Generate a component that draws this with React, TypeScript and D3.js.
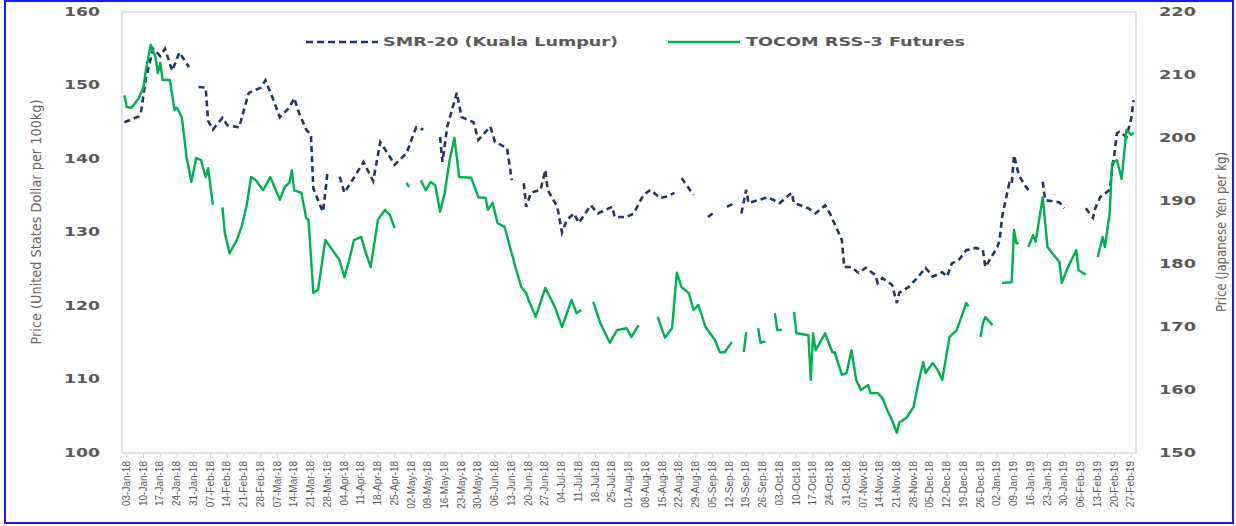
import React from "react";
import * as d3 from "d3";

// ---------- DATA ----------
const smrDates: string[] = [
  "2018-01-02","2018-01-08","2018-01-09","2018-01-11","2018-01-14","2018-01-17","2018-01-19","2018-01-22","2018-01-25","2018-01-29",
  "2018-01-31","2018-02-02","2018-02-05","2018-02-06","2018-02-08","2018-02-12","2018-02-14","2018-02-19","2018-02-20","2018-02-23",
  "2018-02-28","2018-03-02","2018-03-05","2018-03-08","2018-03-12","2018-03-14","2018-03-16","2018-03-19","2018-03-21","2018-03-22",
  "2018-03-26","2018-03-27","2018-03-28","2018-03-30","2018-04-02","2018-04-04","2018-04-09","2018-04-12","2018-04-16","2018-04-19",
  "2018-04-23","2018-04-25","2018-04-30","2018-05-02","2018-05-04","2018-05-07","2018-05-10","2018-05-14","2018-05-15","2018-05-17",
  "2018-05-21","2018-05-23","2018-05-28","2018-05-30","2018-06-04","2018-06-06","2018-06-11","2018-06-13","2018-06-15","2018-06-18",
  "2018-06-19","2018-06-21","2018-06-25","2018-06-27","2018-06-28","2018-07-02","2018-07-04","2018-07-06","2018-07-09","2018-07-11",
  "2018-07-16","2018-07-19","2018-07-25","2018-07-26","2018-07-31","2018-08-03","2018-08-07","2018-08-10","2018-08-14","2018-08-17",
  "2018-08-20","2018-08-21","2018-08-23","2018-08-28","2018-08-31","2018-09-03","2018-09-05","2018-09-07","2018-09-11","2018-09-14",
  "2018-09-15","2018-09-17","2018-09-19","2018-09-20","2018-09-24","2018-09-28","2018-10-03","2018-10-08","2018-10-09","2018-10-15",
  "2018-10-18","2018-10-22","2018-10-24","2018-10-29","2018-10-30","2018-11-02","2018-11-05","2018-11-08","2018-11-12","2018-11-13",
  "2018-11-15","2018-11-19","2018-11-21","2018-11-22","2018-11-26","2018-11-30","2018-12-03","2018-12-06","2018-12-10","2018-12-12",
  "2018-12-14","2018-12-17","2018-12-20","2018-12-24","2018-12-27","2018-12-28","2019-01-02","2019-01-03","2019-01-04","2019-01-07",
  "2019-01-08","2019-01-09","2019-01-11","2019-01-14","2019-01-16","2019-01-18","2019-01-21","2019-01-22","2019-01-28","2019-01-30",
  "2019-02-04","2019-02-08","2019-02-11","2019-02-12","2019-02-14","2019-02-18","2019-02-19","2019-02-20","2019-02-21","2019-02-22",
  "2019-02-25","2019-02-27","2019-02-28"
];
const smrValues: (number | null)[] = [
  145.0,145.8,146.5,151.0,155.0,154.0,155.0,152.0,154.5,152.5,
  null,149.8,149.7,145.2,144.0,145.6,144.6,144.3,145.5,149.0,
  149.7,150.7,148.3,145.7,147.0,148.3,146.3,144.0,143.3,136.0,
  132.8,135.4,138.5,null,137.6,135.4,138.0,139.6,137.0,142.3,
  140.3,139.2,140.8,142.6,144.3,144.0,null,143.0,139.6,144.4,
  149.0,145.7,145.0,142.6,144.4,142.3,141.5,137.1,null,136.7,
  133.5,135.4,135.8,138.5,135.8,133.5,130.0,131.7,132.6,131.3,
  133.7,132.6,133.5,132.1,132.1,132.6,135.1,135.8,134.7,134.9,
  135.4,null,137.4,135.1,null,132.1,132.6,null,133.5,134.0,
  null,132.6,135.8,134.0,134.4,134.8,134.0,135.4,134.0,133.3,
  132.6,133.7,132.6,129.0,125.3,125.3,124.5,125.2,124.2,123.1,
  123.8,122.9,120.4,121.8,122.6,124.0,125.2,124.0,124.6,124.0,
  125.8,126.3,127.6,127.9,127.6,125.3,128.0,129.0,132.1,136.7,
  136.5,140.5,137.8,136.2,135.4,null,136.9,134.4,134.1,133.3,
  null,133.3,132.0,133.3,134.8,135.8,138.5,140.8,143.5,143.7,
  143.0,145.5,148.0
];

const tocomDates: string[] = [
  "2018-01-02","2018-01-03","2018-01-05","2018-01-08","2018-01-10","2018-01-11","2018-01-13","2018-01-15","2018-01-16","2018-01-17",
  "2018-01-18","2018-01-21","2018-01-23","2018-01-24","2018-01-26","2018-01-28","2018-01-30","2018-02-01","2018-02-03","2018-02-05",
  "2018-02-06","2018-02-08","2018-02-10","2018-02-12","2018-02-13","2018-02-15","2018-02-18","2018-02-20","2018-02-22","2018-02-24",
  "2018-02-26","2018-03-01","2018-03-04","2018-03-08","2018-03-10","2018-03-12","2018-03-13","2018-03-14","2018-03-17","2018-03-19",
  "2018-03-20","2018-03-22","2018-03-24","2018-03-27","2018-03-30","2018-04-02","2018-04-04","2018-04-06","2018-04-08","2018-04-11",
  "2018-04-13","2018-04-15","2018-04-18","2018-04-21","2018-04-23","2018-04-25","2018-04-27","2018-04-30","2018-05-01","2018-05-03",
  "2018-05-06","2018-05-08","2018-05-10","2018-05-12","2018-05-14","2018-05-16","2018-05-18","2018-05-20","2018-05-22","2018-05-27",
  "2018-05-30","2018-06-02","2018-06-03","2018-06-05","2018-06-07","2018-06-10","2018-06-14","2018-06-17","2018-06-19","2018-06-20",
  "2018-06-23","2018-06-27","2018-07-01","2018-07-04","2018-07-08","2018-07-10","2018-07-12","2018-07-14","2018-07-17","2018-07-20",
  "2018-07-24","2018-07-27","2018-07-31","2018-08-02","2018-08-05","2018-08-07","2018-08-13","2018-08-16","2018-08-19","2018-08-21",
  "2018-08-23","2018-08-26","2018-08-28","2018-08-30","2018-09-02","2018-09-06","2018-09-08","2018-09-10","2018-09-13","2018-09-14",
  "2018-09-18","2018-09-19","2018-09-21","2018-09-24","2018-09-25","2018-09-27","2018-09-29","2018-10-01","2018-10-02","2018-10-04",
  "2018-10-06","2018-10-09","2018-10-10","2018-10-15","2018-10-16","2018-10-17","2018-10-18","2018-10-22","2018-10-25","2018-10-26",
  "2018-10-29","2018-10-31","2018-11-02","2018-11-04","2018-11-06","2018-11-09","2018-11-10","2018-11-13","2018-11-15","2018-11-17",
  "2018-11-19","2018-11-21","2018-11-22","2018-11-25","2018-11-28","2018-11-30","2018-12-02","2018-12-03","2018-12-06","2018-12-08",
  "2018-12-10","2018-12-13","2018-12-16","2018-12-18","2018-12-20","2018-12-21","2018-12-23","2018-12-26","2018-12-27","2018-12-28",
  "2018-12-31","2019-01-02","2019-01-04","2019-01-08","2019-01-09","2019-01-10","2019-01-11","2019-01-12","2019-01-15","2019-01-17",
  "2019-01-18","2019-01-21","2019-01-23","2019-01-25","2019-01-28","2019-01-29","2019-01-31","2019-02-04","2019-02-05","2019-02-08",
  "2019-02-10","2019-02-13","2019-02-15","2019-02-16","2019-02-18","2019-02-19","2019-02-21","2019-02-23","2019-02-25","2019-02-27",
  "2019-02-28"
];
const tocomValues: (number | null)[] = [
  206.8,204.9,204.8,206.3,208.1,210.8,214.8,212.9,210.3,211.9,
  209.2,209.2,204.4,204.8,203.3,197.0,193.0,196.8,196.5,193.8,
  195.2,189.4,null,189.0,184.9,181.7,183.8,185.9,189.0,193.8,
  193.3,191.7,193.8,190.2,192.2,192.9,194.9,191.7,191.3,187.3,
  187.0,175.4,175.9,183.8,182.2,180.6,177.9,180.6,183.8,184.3,
  181.7,179.5,187.0,188.6,187.8,185.7,null,192.9,192.2,null,
  193.3,191.7,193.0,192.5,188.3,191.4,196.5,200.0,193.8,193.7,
  190.6,190.5,188.6,189.7,186.5,185.9,180.2,176.3,175.4,174.3,
  171.6,176.2,173.2,170.0,174.3,172.2,172.7,null,174.0,170.6,
  167.5,169.5,169.8,168.4,170.3,null,171.6,168.3,169.8,178.6,
  176.3,175.4,172.7,173.5,170.0,167.9,166.0,166.0,167.6,null,
  166.0,169.2,null,169.8,167.5,167.7,null,172.2,169.5,169.5,
  null,172.4,169.0,168.7,161.6,169.0,166.3,169.0,166.0,166.0,
  162.4,162.7,166.3,161.6,160.0,160.8,159.5,159.5,158.7,156.8,
  155.2,153.2,154.8,155.6,157.3,161.1,164.4,162.7,164.3,163.2,
  161.6,168.4,169.5,171.6,173.8,173.3,null,168.4,170.6,171.6,
  170.3,null,177.0,177.1,185.4,183.3,183.3,null,182.7,184.6,
  183.5,190.6,182.7,181.7,180.3,177.0,179.0,182.2,179.0,178.3,
  null,181.1,184.3,182.7,188.1,196.0,196.5,193.5,201.3,200.5,
  200.8
];

const leftTicks = [100, 110, 120, 130, 140, 150, 160];
const rightTicks = [150, 160, 170, 180, 190, 200, 210, 220];
const seriesNames = ["SMR-20 (Kuala Lumpur)", "TOCOM RSS-3 Futures"];
const leftTitle = "Price (United States Dollar per 100kg)";
const rightTitle = "Price (Japanese Yen per kg)";
const firstTickDate = "2018-01-03";
const lastTickDate = "2019-02-28";
const domainStart = "2018-01-01";
const domainEnd = "2019-03-01";

// ---------- LAYOUT ----------
const W = 1236, H = 526;
const X0 = 122, X1 = 1136, Y0 = 12, Y1 = 453;
const NAVY = "#1f3864";
const GREEN = "#00b050";
const GRAY = "#595959";
const TITLE = "#6f655a";

const parse = d3.timeParse("%Y-%m-%d");
const fmt = d3.timeFormat("%d-%b-%y");

export default function App() {
  const x = d3.scaleTime().domain([parse(domainStart)!, parse(domainEnd)!]).range([X0, X1]);
  const yL = d3.scaleLinear().domain([100, 160]).range([Y1, Y0]);
  const yR = d3.scaleLinear().domain([150, 220]).range([Y1, Y0]);

  const smr = smrDates.map((d, i) => ({ d: parse(d)!, v: smrValues[i] }));
  const toc = tocomDates.map((d, i) => ({ d: parse(d)!, v: tocomValues[i] }));

  const lineL = d3.line<{ d: Date; v: number | null }>()
    .defined(p => p.v != null).x(p => x(p.d)).y(p => yL(p.v as number));
  const lineR = d3.line<{ d: Date; v: number | null }>()
    .defined(p => p.v != null).x(p => x(p.d)).y(p => yR(p.v as number));

  const weekTicks = d3.timeWednesday.range(parse(firstTickDate)!, parse(lastTickDate)!);

  const tickFont = "'DejaVu Sans', Verdana, sans-serif";

  return (
    <svg width={W} height={H} style={{ position: "absolute", left: 0, top: 0, background: "#fff" }}
      xmlns="http://www.w3.org/2000/svg">
      <rect x={0} y={0} width={W} height={H} fill="#fff" />
      <rect x={5} y={1} width={1228} height={522} fill="none" stroke="#1a1aff" strokeWidth={2} />
      {/* plot frame */}
      <rect x={X0} y={Y0} width={X1 - X0} height={Y1 - Y0} fill="none" stroke="#d9d9d9" strokeWidth={1.5} />
      {/* x ticks */}
      {weekTicks.map((t, i) => (
        <g key={i}>
          <line x1={x(t)} x2={x(t)} y1={Y1} y2={Y1 + 5} stroke="#d9d9d9" strokeWidth={1} />
          <text transform={`translate(${x(t) + 0.5},${Y1 + 8}) rotate(-90)`} textAnchor="end"
            dominantBaseline="middle" fontSize={10} fill={GRAY}
            fontFamily="'Liberation Sans', Arial, sans-serif">{fmt(t)}</text>
        </g>
      ))}
      {/* left ticks */}
      {leftTicks.map(v => (
        <text key={"l" + v} x={100} y={yL(v)} textAnchor="end" dominantBaseline="middle"
          fontSize={12} fontWeight="bold" fill={GRAY} fontFamily={tickFont}
          textLength={36} lengthAdjust="spacingAndGlyphs">{v}</text>
      ))}
      {/* right ticks */}
      {rightTicks.map(v => (
        <text key={"r" + v} x={1159} y={yR(v)} textAnchor="start" dominantBaseline="middle"
          fontSize={12} fontWeight="bold" fill={GRAY} fontFamily={tickFont}
          textLength={37} lengthAdjust="spacingAndGlyphs">{v}</text>
      ))}
      {/* axis titles */}
      <text transform="translate(37,222) rotate(-90)" textAnchor="middle" dominantBaseline="middle"
        fontSize={14} fill={TITLE} fontFamily="'Liberation Sans Narrow', 'DejaVu Sans Condensed', Arial, sans-serif"
        textLength={245} lengthAdjust="spacingAndGlyphs">{leftTitle}</text>
      <text transform="translate(1222,232) rotate(-90)" textAnchor="middle" dominantBaseline="middle"
        fontSize={14} fill={TITLE} fontFamily="'Liberation Sans Narrow', 'DejaVu Sans Condensed', Arial, sans-serif"
        textLength={160} lengthAdjust="spacingAndGlyphs">{rightTitle}</text>
      {/* series */}
      <path d={lineL(smr) || ""} fill="none" stroke={NAVY} strokeWidth={2.6} strokeDasharray="6,4" />
      <path d={lineR(toc) || ""} fill="none" stroke={GREEN} strokeWidth={2.4} strokeLinejoin="round" />
      {/* legend */}
      <line x1={306} x2={378} y1={42} y2={42} stroke={NAVY} strokeWidth={2.6} strokeDasharray="7,4" />
      <text x={383} y={42} dominantBaseline="middle" fontSize={12} fontWeight="bold" fill={GRAY}
        fontFamily={tickFont} textLength={235} lengthAdjust="spacingAndGlyphs">{seriesNames[0]}</text>
      <line x1={668} x2={740} y1={42} y2={42} stroke={GREEN} strokeWidth={2.6} />
      <text x={746} y={42} dominantBaseline="middle" fontSize={12} fontWeight="bold" fill={GRAY}
        fontFamily={tickFont} textLength={219} lengthAdjust="spacingAndGlyphs">{seriesNames[1]}</text>
    </svg>
  );
}
